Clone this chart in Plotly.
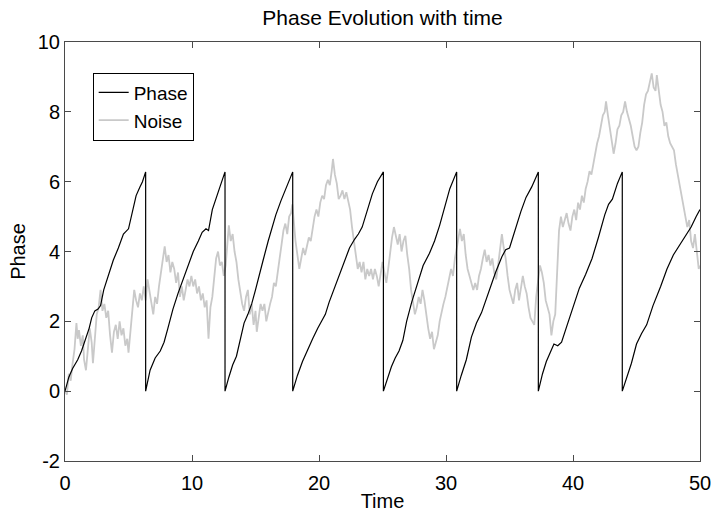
import plotly.graph_objects as go

# ---- data ----
phase_t = [0.0, 0.3, 0.6, 1.0, 1.3, 1.6, 1.9, 2.1, 2.35, 2.6, 2.8, 3.05, 3.4, 3.8, 4.2, 4.6, 5.0, 5.3, 5.6, 5.9, 6.1, 6.35,
           6.35, 6.7, 7.1, 7.5, 7.8, 8.1, 8.5, 8.9, 9.3, 9.7, 10.1, 10.5, 10.8, 11.1, 11.3, 11.6, 11.9, 12.2, 12.6,
           12.6, 12.9, 13.2, 13.5, 13.8, 14.1, 14.4, 14.7, 15.0, 15.3, 15.6, 16.0, 16.3, 16.6, 17.0, 17.4, 17.93,
           17.93, 18.3, 18.7, 19.1, 19.5, 19.9, 20.2, 20.5, 20.8, 21.2, 21.6, 22.0, 22.4, 22.8, 23.1, 23.4, 23.8, 24.2, 24.6, 25.07,
           25.07, 25.4, 25.7, 26.0, 26.3, 26.6, 26.9, 27.3, 27.7, 28.2, 28.7, 29.1, 29.5, 29.9, 30.3, 30.84,
           30.84, 31.2, 31.6, 32.0, 32.4, 32.8, 33.3, 33.9, 34.4, 34.7, 35.0, 35.4, 35.9, 36.3, 36.75, 37.27,
           37.27, 37.6, 37.9, 38.2, 38.5, 38.8, 39.1, 39.5, 40.0, 40.5, 41.0, 41.5, 42.0, 42.5, 42.8, 43.1, 43.5, 43.88,
           43.88, 44.2, 44.6, 45.0, 45.4, 45.8, 46.3, 46.9, 47.4, 47.9, 48.4, 48.9, 49.3, 49.7, 50.0]
phase_v = [0.0, 0.4, 0.65, 0.9, 1.15, 1.45, 1.8, 2.1, 2.3, 2.35, 2.45, 2.9, 3.3, 3.75, 4.1, 4.5, 4.65, 5.1, 5.6, 5.85, 6.0, 6.28,
           0.0, 0.6, 0.95, 1.15, 1.4, 1.8, 2.35, 2.8, 3.2, 3.6, 4.0, 4.3, 4.55, 4.65, 4.6, 5.2, 5.55, 5.85, 6.28,
           0.0, 0.4, 0.75, 1.0, 1.45, 1.95, 2.2, 2.5, 2.9, 3.35, 3.75, 4.3, 4.7, 5.05, 5.45, 5.8, 6.28,
           0.0, 0.45, 0.85, 1.2, 1.5, 1.8, 2.0, 2.2, 2.55, 2.95, 3.35, 3.75, 4.1, 4.35, 4.5, 4.7, 5.2, 5.65, 6.0, 6.28,
           0.0, 0.4, 0.7, 0.95, 1.15, 1.45, 2.0, 2.55, 3.05, 3.6, 3.95, 4.3, 4.75, 5.25, 5.8, 6.28,
           0.0, 0.45, 0.9, 1.55, 1.95, 2.25, 2.8, 3.4, 3.85, 4.05, 4.1, 4.6, 5.15, 5.55, 5.85, 6.28,
           0.0, 0.5, 0.85, 1.1, 1.35, 1.3, 1.4, 1.85, 2.4, 2.95, 3.35, 3.8, 4.4, 5.05, 5.35, 5.5, 5.95, 6.28,
           0.0, 0.35, 0.8, 1.35, 1.65, 1.9, 2.45, 3.0, 3.5, 3.9, 4.2, 4.5, 4.7, 5.0, 5.2]

noise_t = [0.0, 0.15, 0.3, 0.45, 0.6, 0.75, 0.9, 1.0, 1.1, 1.25, 1.4, 1.5, 1.65, 1.8, 1.95, 2.1, 2.2, 2.35, 2.5, 2.65,
           2.8, 2.95, 3.1, 3.25, 3.4, 3.55, 3.7, 3.85, 4.0, 4.15, 4.3, 4.45, 4.6, 4.75, 4.9, 5.0, 5.15, 5.3, 5.45, 5.6,
           5.75, 5.9, 6.05, 6.2, 6.35, 6.5, 6.65, 6.8, 6.95, 7.1, 7.25, 7.4, 7.55, 7.7, 7.85, 8.0, 8.15, 8.3, 8.45, 8.6,
           8.75, 8.9, 9.05, 9.2, 9.35, 9.5, 9.65, 9.8, 9.95, 10.1, 10.25, 10.4, 10.55, 10.7, 10.85, 11.0, 11.15, 11.3, 11.45, 11.6,
           11.75, 11.9, 12.05, 12.2, 12.35, 12.5, 12.65, 12.8, 12.9, 13.05, 13.2, 13.35, 13.5, 13.65, 13.8, 13.95, 14.1, 14.25, 14.4, 14.55,
           14.7, 14.85, 15.0, 15.1, 15.25, 15.4, 15.55, 15.7, 15.85, 16.0, 16.15, 16.3, 16.45, 16.6, 16.75, 16.9, 17.05, 17.2, 17.35, 17.5,
           17.65, 17.8, 17.9, 18.0, 18.15, 18.3, 18.45, 18.6, 18.75, 18.9, 19.05, 19.2, 19.35, 19.5, 19.65, 19.8, 19.95, 20.1, 20.25, 20.4,
           20.55, 20.7, 20.85, 21.0, 21.1, 21.25, 21.4, 21.55, 21.7, 21.85, 22.0, 22.15, 22.3, 22.45, 22.6, 22.75, 22.9, 23.05, 23.2, 23.35,
           23.5, 23.65, 23.8, 23.95, 24.1, 24.25, 24.4, 24.55, 24.7, 24.85, 25.0, 25.15, 25.3, 25.45, 25.6, 25.75, 25.9, 26.05, 26.2, 26.35,
           26.5, 26.65, 26.8, 26.95, 27.1, 27.25, 27.4, 27.55, 27.7, 27.85, 28.0, 28.15, 28.3, 28.45, 28.6, 28.75, 28.9, 29.05, 29.2, 29.35,
           29.5, 29.65, 29.8, 29.95, 30.1, 30.25, 30.4, 30.55, 30.7, 30.85, 31.0, 31.1, 31.25, 31.4, 31.55, 31.7, 31.85, 32.0, 32.15, 32.3,
           32.45, 32.6, 32.75, 32.9, 33.05, 33.2, 33.35, 33.5, 33.65, 33.8, 33.95, 34.1, 34.25, 34.4, 34.55, 34.7, 34.85, 35.0, 35.15, 35.3,
           35.45, 35.6, 35.75, 35.9, 36.05, 36.2, 36.35, 36.5, 36.65, 36.8, 36.95, 37.1, 37.25, 37.4, 37.55, 37.7, 37.85, 38.0, 38.15, 38.3,
           38.45, 38.6, 38.75, 38.9, 39.05, 39.2, 39.35, 39.5, 39.65, 39.8, 39.95, 40.1, 40.25, 40.4, 40.55, 40.7, 40.85, 41.0, 41.15, 41.3,
           41.45, 41.6, 41.75, 41.9, 42.05, 42.2, 42.35, 42.5, 42.6, 42.75, 42.9, 43.05, 43.2, 43.35, 43.5, 43.65, 43.8, 43.95, 44.1, 44.25,
           44.4, 44.55, 44.7, 44.85, 45.0, 45.15, 45.3, 45.45, 45.6, 45.75, 45.9, 46.05, 46.2, 46.35, 46.5, 46.6, 46.75, 46.9, 47.05, 47.2,
           47.35, 47.5, 47.65, 47.8, 47.95, 48.1, 48.25, 48.4, 48.55, 48.7, 48.85, 49.0, 49.15, 49.3, 49.45, 49.6, 49.75, 49.9, 50.0]
noise_v = [0.0, -0.1, 0.5, 0.3, 0.8, 1.2, 1.95, 1.5, 1.75, 1.3, 1.6, 0.9, 0.6, 1.2, 1.8, 1.4, 0.8, 1.5, 2.2, 2.4,
           2.9, 2.3, 2.5, 2.1, 2.3, 1.6, 1.1, 1.7, 1.9, 1.5, 2.0, 1.6, 1.8, 1.3, 1.5, 1.1, 1.7, 2.4, 2.9, 2.6,
           2.4, 2.8, 2.6, 3.0, 2.6, 3.2, 2.9, 2.5, 2.2, 2.7, 2.5, 3.0, 3.4, 3.8, 4.15, 3.7, 3.9, 3.4, 3.7, 3.5,
           3.1, 3.4, 2.7, 3.0, 2.6, 2.9, 3.2, 3.0, 3.3, 3.0, 3.2, 2.8, 3.0, 2.6, 2.8, 2.4, 2.6, 1.5, 2.4, 2.7,
           3.3, 3.8, 4.0, 3.6, 3.7, 3.3, 3.6, 4.3, 4.75, 4.3, 4.5, 4.0, 3.7, 3.2, 2.8, 2.5, 2.3, 2.7, 2.9, 2.2,
           2.5, 1.9, 2.3, 1.7, 2.1, 2.5, 2.3, 2.5, 2.0, 2.3, 2.5, 2.7, 3.1, 3.0, 3.5, 3.8, 4.2, 4.6, 4.8, 4.5,
           5.0, 5.1, 5.35, 4.8, 4.3, 3.9, 3.5, 3.8, 4.1, 3.9, 4.2, 4.4, 4.3, 4.7, 5.0, 5.2, 5.0, 5.4, 5.6, 5.5,
           5.9, 6.05, 5.9, 6.3, 6.65, 6.2, 5.95, 5.5, 5.6, 5.75, 5.5, 5.7, 5.4, 5.2, 4.7, 4.3, 3.9, 3.5, 3.7, 3.4,
           3.7, 3.2, 3.5, 3.3, 3.5, 3.2, 3.5, 3.3, 3.0, 3.3, 3.7, 3.4, 3.1, 3.5, 4.05, 4.4, 4.7, 4.4, 4.2, 4.5,
           4.0, 4.3, 4.45, 3.9, 3.5, 2.9, 2.5, 2.2, 2.4, 2.7, 2.5, 2.9, 2.6, 2.1, 1.8, 1.5, 1.7, 1.2, 1.4, 1.6,
           2.0, 2.3, 2.5, 2.7, 3.0, 3.2, 3.5, 3.3, 3.8, 4.1, 4.5, 4.65, 4.3, 4.5, 3.9, 3.5, 3.3, 3.1, 2.9, 3.1,
           2.9, 3.3, 3.5, 3.8, 4.05, 3.7, 3.9, 3.6, 3.8, 3.4, 3.2, 3.6, 4.1, 4.5, 4.1, 3.8, 3.3, 2.9, 2.7, 2.5,
           2.9, 3.1, 2.6, 2.9, 3.3, 3.0, 2.8, 2.4, 2.1, 2.0, 1.9, 2.7, 3.2, 3.6, 3.4, 3.1, 2.6, 2.4, 2.2, 1.6,
           2.0, 2.2, 3.5, 4.6, 5.0, 4.7, 4.9, 5.1, 4.8, 4.6, 5.0, 5.2, 4.9, 5.4, 5.2, 5.6, 5.4, 5.8, 6.0, 6.3,
           6.2, 6.5, 6.9, 7.1, 7.3, 7.6, 7.9, 8.0, 8.3, 7.9, 7.5, 7.2, 6.8, 7.1, 7.5, 7.6, 7.9, 8.0, 8.3, 8.0,
           7.8, 7.6, 7.3, 7.0, 6.9, 7.0, 7.4, 7.7, 8.2, 8.5, 8.6, 8.9, 9.1, 8.7, 8.6, 9.05, 8.6, 8.2, 8.0, 7.6,
           7.7, 7.3, 7.1, 7.0, 6.9, 6.5, 6.2, 5.9, 5.6, 5.3, 5.0, 4.7, 4.9, 4.3, 4.1, 4.5, 4.0, 3.5, 3.6]

x_ticks = [0, 10, 20, 30, 40, 50]
y_ticks = [-2, 0, 2, 4, 6, 8, 10]

FONT = "Liberation Sans, Arial, Helvetica, sans-serif"
AXIS_COLOR = "#4a4a4a"

fig = go.Figure()
fig.add_trace(go.Scatter(x=noise_t, y=noise_v, mode="lines", name="Noise",
                         line=dict(color="#c9c9c9", width=1.8)))
fig.add_trace(go.Scatter(x=phase_t, y=phase_v, mode="lines", name="Phase",
                         line=dict(color="black", width=1.2)))

fig.update_layout(
    width=713, height=512, autosize=False,
    margin=dict(l=65, r=13, t=42, b=51, autoexpand=False),
    paper_bgcolor="white", plot_bgcolor="white",
    font=dict(family=FONT, color="black"),
    title=dict(text="Phase Evolution with time", x=(65 + 700) / 2 / 713, xanchor="center",
               y=1 - 18 / 512, yanchor="middle", font=dict(size=21, family=FONT, color="black")),
    showlegend=True,
    legend=dict(x=0.0436, y=0.927, xanchor="left", yanchor="top",
                bgcolor="white", bordercolor="black", borderwidth=1,
                font=dict(size=19, family=FONT, color="black"),
                traceorder="reversed", itemwidth=30, tracegroupgap=0),
)
fig.update_xaxes(range=[0, 50], tickvals=x_ticks, ticktext=[str(v) for v in x_ticks],
                 ticks="inside", ticklen=6, tickcolor=AXIS_COLOR, showline=True, linecolor=AXIS_COLOR,
                 linewidth=1, mirror="ticks", showgrid=False, zeroline=False, automargin=False,
                 ticklabelstandoff=4,
                 tickfont=dict(size=20, family=FONT, color="black"),
                 title=dict(text="Time", font=dict(size=20, family=FONT, color="black"), standoff=4))
fig.update_yaxes(range=[-2, 10], tickvals=y_ticks, ticktext=[str(v) for v in y_ticks],
                 ticks="inside", ticklen=6, tickcolor=AXIS_COLOR, showline=True, linecolor=AXIS_COLOR,
                 linewidth=1, mirror="ticks", showgrid=False, zeroline=False, automargin=False,
                 tickfont=dict(size=20, family=FONT, color="black"),
                 title=dict(text="Phase", font=dict(size=20, family=FONT, color="black"), standoff=6))

fig.write_html("out.html")
